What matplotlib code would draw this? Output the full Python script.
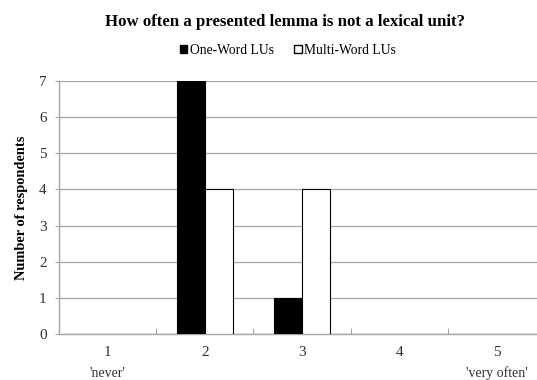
import matplotlib
matplotlib.use("Agg")
import matplotlib.pyplot as plt
from matplotlib.patches import Patch
import numpy as np

plt.rcParams['font.family'] = ['Liberation Serif', 'DejaVu Serif']

categories = ["1", "2", "3", "4", "5"]
one_word = [0, 7, 1, 0, 0]
multi_word = [0, 4, 4, 0, 0]
end_labels = {0: "'never'", 4: "'very often'"}

fig = plt.figure(figsize=(5.37, 3.8), dpi=100)
ax = fig.add_axes([59 / 537, 46 / 380, 486 / 537, 253 / 380])

x = np.arange(len(categories))
w = 0.286
# zero-height bars get no outline so they stay invisible
lw_one = [0.8 if v > 0 else 0 for v in one_word]
lw_multi = [0.8 if v > 0 else 0 for v in multi_word]
ax.bar(x - w / 2, one_word, width=w, color="black", edgecolor="black", linewidth=lw_one, zorder=3)
ax.bar(x + w / 2, multi_word, width=w, color="white", edgecolor="black", linewidth=lw_multi, zorder=3)

ax.set_xlim(-0.5, len(categories) - 0.5)
ax.set_ylim(0, 7)
ax.set_yticks(range(0, 8))
ax.yaxis.grid(True, color="#a6a6a6", linewidth=0.9, zorder=0)
ax.set_axisbelow(True)

# category boundary ticks on x, labels centred below each category
ax.set_xticks(np.arange(-0.5, len(categories) + 0.5, 1.0))
ax.set_xticklabels([])
ax.tick_params(axis="x", direction="in", length=4, color="#a6a6a6")
ax.tick_params(axis="y", direction="out", length=3, color="#a6a6a6", labelsize=11,
               labelcolor="#303030", pad=6)
for i, c in enumerate(categories):
    ax.text(i, -0.5, c, ha="center", va="center", fontsize=11, color="#303030")
    if i in end_labels:
        ax.text(i, -1.08, end_labels[i], ha="center", va="center", fontsize=10, color="#303030")

for side in ("top", "right"):
    ax.spines[side].set_visible(False)
for side in ("left", "bottom"):
    ax.spines[side].set_color("#a6a6a6")
    ax.spines[side].set_linewidth(1.0)

ax.set_ylabel("Number of respondents", fontsize=10.4, fontweight="bold", labelpad=8)

fig.text(285 / 537, 1 - 22 / 380, "How often a presented lemma is not a lexical unit?",
         ha="center", va="center", fontsize=12.1, fontweight="bold")

handles = [Patch(facecolor="black", edgecolor="black"),
           Patch(facecolor="white", edgecolor="black")]
fig.legend(handles, ["One-Word LUs", "Multi-Word LUs"], loc="center",
           bbox_to_anchor=(288 / 537, 1 - 50 / 380), ncol=2, frameon=False,
           fontsize=9.8, handlelength=0.55, handleheight=0.55, handletextpad=0.2,
           columnspacing=1.5)

fig.savefig("out.png", dpi=100)
